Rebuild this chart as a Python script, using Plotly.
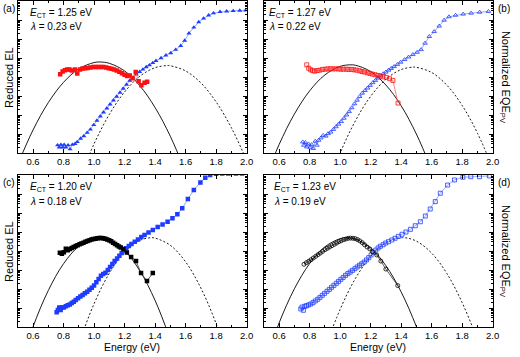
import numpy as np
import plotly.graph_objects as go

# ---- panel (a) ----
ea_eqe = [0.761, 0.772, 0.783, 0.794, 0.804, 0.815, 0.830, 0.843, 0.858, 0.875,
          0.890, 0.912, 0.933, 0.955, 0.976, 0.998, 1.019, 1.041, 1.062, 1.084,
          1.105, 1.127, 1.148, 1.170, 1.191, 1.213, 1.234, 1.256, 1.277, 1.299,
          1.320, 1.342, 1.363, 1.385, 1.406, 1.439, 1.471, 1.503, 1.535, 1.568,
          1.594, 1.622, 1.654, 1.686, 1.718, 1.751, 1.783, 1.826, 1.869, 1.912,
          1.955, 1.994]
la_eqe = [-6.59, -6.70, -6.56, -6.70, -6.56, -6.70, -6.59, -6.80, -6.56, -6.52,
          -6.42, -6.24, -6.11, -5.93, -5.76, -5.52, -5.29, -5.07, -4.86, -4.65,
          -4.44, -4.23, -4.03, -3.82, -3.61, -3.40, -3.19, -3.02, -2.86, -2.73,
          -2.60, -2.48, -2.38, -2.26, -2.15, -2.00, -1.86, -1.74, -1.56, -1.36,
          -1.08, -0.70, -0.39, -0.11, 0.08, 0.25, 0.36, 0.43, 0.46, 0.48,
          0.50, 0.51]
ea_el = [0.778, 0.794, 0.809, 0.824, 0.839, 0.854, 0.875, 0.890, 0.908, 0.925,
         0.942, 0.959, 0.976, 0.994, 1.011, 1.028, 1.045, 1.062, 1.080, 1.097,
         1.114, 1.131, 1.148, 1.166, 1.183, 1.200, 1.217, 1.234, 1.252, 1.273,
         1.292, 1.310, 1.331, 1.348]
la_el = [-2.86, -2.71, -2.64, -2.60, -2.60, -2.66, -2.60, -2.81, -2.60, -2.55,
         -2.54, -2.52, -2.50, -2.48, -2.47, -2.47, -2.47, -2.48, -2.50, -2.54,
         -2.57, -2.60, -2.66, -2.73, -2.80, -2.88, -2.95, -2.92, -3.06, -2.74,
         -3.23, -3.44, -3.30, -3.25]
ea_fit_el = [0.50, 0.60, 0.70, 0.80, 0.90, 1.00, 1.04, 1.10, 1.20, 1.30, 1.40, 1.50, 1.60]
la_fit_el = [-7.60, -5.79, -4.35, -3.28, -2.57, -2.24, -2.21, -2.28, -2.68, -3.46, -4.61, -6.12, -8.01]
ea_fit_eqe = [0.90, 1.00, 1.10, 1.20, 1.30, 1.40, 1.48, 1.50, 1.60, 1.70, 1.80, 1.90, 2.00, 2.05]
la_fit_eqe = [-8.44, -6.52, -4.97, -3.79, -2.96, -2.51, -2.40, -2.41, -2.68, -3.31, -4.31, -5.67, -7.40, -8.40]

# ---- panel (b) ----
eb_eqe = [0.755, 0.762, 0.772, 0.781, 0.792, 0.803, 0.813, 0.824, 0.837, 0.848,
          0.859, 0.874, 0.889, 0.906, 0.921, 0.938, 0.956, 0.973, 0.990, 1.007,
          1.025, 1.042, 1.059, 1.076, 1.094, 1.111, 1.128, 1.145, 1.163, 1.180,
          1.197, 1.214, 1.231, 1.249, 1.266, 1.283, 1.300, 1.318, 1.335, 1.354,
          1.376, 1.397, 1.423, 1.449, 1.477, 1.505, 1.531, 1.557, 1.585, 1.617,
          1.650, 1.682, 1.714, 1.757, 1.807, 1.859, 1.915, 1.973]
lb_eqe = [-6.42, -6.59, -6.45, -6.68, -6.52, -6.70, -6.56, -6.76, -6.38, -6.59,
          -6.33, -6.21, -6.07, -6.11, -5.98, -5.90, -5.76, -5.62, -5.48, -5.34,
          -5.17, -5.00, -4.82, -4.62, -4.41, -4.22, -4.03, -3.85, -3.71, -3.58,
          -3.44, -3.30, -3.18, -3.06, -2.93, -2.83, -2.74, -2.64, -2.55, -2.45,
          -2.34, -2.22, -2.08, -1.95, -1.82, -1.70, -1.56, -1.22, -0.87, -0.61,
          -0.32, -0.01, 0.17, 0.25, 0.31, 0.36, 0.41, 0.45]
eb_el = [0.781, 0.794, 0.807, 0.820, 0.833, 0.850, 0.867, 0.884, 0.902, 0.919,
         0.936, 0.953, 0.971, 0.988, 1.005, 1.022, 1.040, 1.057, 1.074, 1.091,
         1.109, 1.126, 1.143, 1.160, 1.178, 1.195, 1.212, 1.229, 1.247, 1.264,
         1.281, 1.303, 1.324, 1.346, 1.380]
lb_el = [-2.36, -2.54, -2.62, -2.67, -2.69, -2.66, -2.64, -2.60, -2.59, -2.57,
         -2.57, -2.57, -2.57, -2.57, -2.59, -2.59, -2.59, -2.60, -2.60, -2.62,
         -2.64, -2.67, -2.71, -2.74, -2.78, -2.81, -2.85, -2.88, -2.92, -2.95,
         -2.99, -3.02, -3.09, -3.18, -4.37]
eb_fit_el = [0.50, 0.60, 0.70, 0.80, 0.90, 1.00, 1.066, 1.10, 1.20, 1.30, 1.40, 1.50, 1.60]
lb_fit_el = [-8.54, -6.55, -4.95, -3.73, -2.89, -2.44, -2.36, -2.38, -2.71, -3.42, -4.51, -6.00, -7.86]
eb_fit_eqe = [0.90, 1.00, 1.10, 1.20, 1.30, 1.40, 1.48, 1.50, 1.60, 1.70, 1.80, 1.90, 2.00]
lb_fit_eqe = [-9.07, -7.00, -5.31, -4.02, -3.12, -2.61, -2.48, -2.49, -2.76, -3.43, -4.49, -5.94, -7.78]

# ---- panel (c) ----
ec_eqe = [0.755, 0.763, 0.772, 0.781, 0.789, 0.802, 0.815, 0.828, 0.841, 0.854,
          0.867, 0.880, 0.895, 0.910, 0.925, 0.940, 0.955, 0.970, 0.985, 1.000,
          1.015, 1.030, 1.045, 1.060, 1.075, 1.090, 1.105, 1.120, 1.135, 1.151,
          1.166, 1.181, 1.196, 1.211, 1.228, 1.245, 1.267, 1.288, 1.310, 1.331,
          1.357, 1.385, 1.417, 1.449, 1.482, 1.514, 1.546, 1.578, 1.615, 1.654,
          1.697, 1.729, 1.761, 1.800, 1.840, 1.880, 1.930, 1.970]
lc_eqe = [-6.23, -6.11, -5.98, -6.11, -5.98, -5.98, -5.91, -5.86, -5.81, -5.74,
          -5.67, -5.58, -5.49, -5.40, -5.32, -5.23, -5.14, -5.04, -4.93, -4.81,
          -4.65, -4.47, -4.30, -4.21, -4.14, -4.00, -3.84, -3.68, -3.53, -3.39,
          -3.25, -3.11, -2.98, -2.86, -2.74, -2.63, -2.51, -2.39, -2.26, -2.16,
          -2.02, -1.89, -1.74, -1.60, -1.46, -1.28, -1.07, -0.75, -0.26, 0.21,
          0.61, 0.86, 1.00, 1.06, 1.08, 1.08, 1.08, 1.08]
ec_el = [0.776, 0.789, 0.802, 0.815, 0.828, 0.841, 0.854, 0.867, 0.880, 0.892,
         0.905, 0.918, 0.931, 0.944, 0.957, 0.970, 0.983, 0.996, 1.009, 1.022,
         1.034, 1.047, 1.060, 1.073, 1.086, 1.099, 1.112, 1.125, 1.138, 1.151,
         1.163, 1.175, 1.192, 1.215, 1.243, 1.275, 1.308, 1.347, 1.385]
lc_el = [-3.09, -3.14, -3.07, -2.88, -2.96, -2.89, -2.84, -2.79, -2.74, -2.70,
         -2.65, -2.60, -2.56, -2.51, -2.47, -2.44, -2.40, -2.37, -2.35, -2.33,
         -2.32, -2.32, -2.33, -2.35, -2.39, -2.44, -2.49, -2.56, -2.63, -2.70,
         -2.76, -2.81, -2.89, -3.08, -3.32, -3.53, -4.16, -4.58, -4.16]
ec_fit_el = [0.50, 0.60, 0.70, 0.80, 0.90, 1.00, 1.035, 1.10, 1.20, 1.30, 1.40, 1.50]
lc_fit_el = [-9.40, -6.99, -5.08, -3.67, -2.75, -2.33, -2.30, -2.40, -2.97, -4.04, -5.60, -7.66]
ec_fit_eqe = [0.85, 0.90, 1.00, 1.10, 1.20, 1.30, 1.374, 1.40, 1.50, 1.60, 1.70, 1.80, 1.90]
lc_fit_eqe = [-9.14, -7.89, -5.78, -4.17, -3.05, -2.44, -2.30, -2.32, -2.70, -3.57, -4.95, -6.82, -9.19]

# ---- panel (d) ----
ed_eqe = [0.742, 0.750, 0.759, 0.768, 0.779, 0.792, 0.807, 0.822, 0.837, 0.853,
          0.868, 0.883, 0.898, 0.914, 0.929, 0.944, 0.959, 0.975, 0.990, 1.005,
          1.020, 1.036, 1.051, 1.066, 1.081, 1.097, 1.112, 1.127, 1.142, 1.158,
          1.173, 1.188, 1.203, 1.219, 1.234, 1.249, 1.264, 1.282, 1.299, 1.317,
          1.339, 1.360, 1.382, 1.406, 1.432, 1.461, 1.493, 1.526, 1.559, 1.591,
          1.624, 1.657, 1.705, 1.750, 1.805, 1.857, 1.914, 1.979]
ld_eqe = [-6.05, -5.95, -6.12, -5.91, -5.88, -5.84, -5.79, -5.72, -5.63, -5.54,
          -5.44, -5.33, -5.23, -5.12, -5.02, -4.91, -4.81, -4.70, -4.60, -4.49,
          -4.39, -4.28, -4.19, -4.11, -4.02, -3.93, -3.84, -3.75, -3.67, -3.58,
          -3.47, -3.35, -3.21, -3.07, -2.95, -2.84, -2.75, -2.67, -2.58, -2.51,
          -2.42, -2.33, -2.23, -2.12, -2.00, -1.86, -1.67, -1.46, -1.16, -0.79,
          -0.40, 0.04, 0.47, 0.74, 0.88, 0.91, 0.91, 0.95]
ed_el = [0.763, 0.779, 0.794, 0.809, 0.824, 0.840, 0.855, 0.870, 0.885, 0.901,
         0.916, 0.931, 0.946, 0.962, 0.977, 0.992, 1.007, 1.023, 1.038, 1.053,
         1.068, 1.084, 1.099, 1.114, 1.129, 1.145, 1.160, 1.177, 1.195, 1.212,
         1.240, 1.267, 1.300, 1.378]
ld_el = [-3.70, -3.61, -3.54, -3.46, -3.37, -3.28, -3.19, -3.11, -3.02, -2.93,
         -2.86, -2.79, -2.72, -2.65, -2.58, -2.51, -2.46, -2.40, -2.37, -2.33,
         -2.32, -2.33, -2.35, -2.40, -2.47, -2.56, -2.67, -2.79, -2.89, -3.04,
         -3.21, -3.53, -3.95, -4.82]
ed_fit_el = [0.50, 0.60, 0.70, 0.80, 0.90, 1.00, 1.045, 1.10, 1.20, 1.30, 1.40, 1.50, 1.60]
ld_fit_el = [-9.01, -6.78, -4.99, -3.66, -2.78, -2.35, -2.30, -2.37, -2.84, -3.77, -5.15, -6.98, -9.26]
ed_fit_eqe = [0.90, 1.00, 1.10, 1.20, 1.30, 1.41, 1.50, 1.60, 1.70, 1.80, 1.90, 2.00]
ld_fit_eqe = [-8.13, -6.07, -4.45, -3.29, -2.57, -2.30, -2.48, -3.11, -4.18, -5.71, -7.68, -10.1]

panel_tags = ["(a)", "(b)", "(c)", "(d)"]
ect_text = ["1.25", "1.27", "1.20", "1.23"]
lam_text = ["0.23", "0.22", "0.18", "0.19"]
x_ticks = [0.6, 0.8, 1.0, 1.2, 1.4, 1.6, 1.8, 2.0]

BLUE = "#1d3cff"
BLUE_LINE = "#7d92ff"
RED = "#ff1010"
FONT = "Liberation Sans, Arial, sans-serif"

W, H = 520, 357
# pixel boxes of the four plot areas: (left, right, top, bottom)
boxes = [(18, 250, 1, 153), (267.5, 499.3, 1, 153),
         (18, 250, 175, 327), (267.5, 499.3, 175, 327)]

panels = [
    dict(eqe=(ea_eqe, la_eqe), el=(ea_el, la_el), fit_el=(ea_fit_el, la_fit_el),
         fit_eqe=(ea_fit_eqe, la_fit_eqe), eqe_sym="triangle-up", el_sym="square",
         el_col=RED),
    dict(eqe=(eb_eqe, lb_eqe), el=(eb_el, lb_el), fit_el=(eb_fit_el, lb_fit_el),
         fit_eqe=(eb_fit_eqe, lb_fit_eqe), eqe_sym="triangle-up-open", el_sym="square-open",
         el_col=RED),
    dict(eqe=(ec_eqe, lc_eqe), el=(ec_el, lc_el), fit_el=(ec_fit_el, lc_fit_el),
         fit_eqe=(ec_fit_eqe, lc_fit_eqe), eqe_sym="square", el_sym="square",
         el_col="black"),
    dict(eqe=(ed_eqe, ld_eqe), el=(ed_el, ld_el), fit_el=(ed_fit_el, ld_fit_el),
         fit_eqe=(ed_fit_eqe, ld_fit_eqe), eqe_sym="square-open", el_sym="circle-open",
         el_col="black"),
]

fig = go.Figure()
layout = {}
annotations = []

for i, (p, box) in enumerate(zip(panels, boxes)):
    n = "" if i == 0 else str(i + 1)
    xref, yref = "x" + n, "y" + n
    l, r, t, b = box
    common = dict(showline=True, linecolor="black", linewidth=1, mirror="ticks",
                  ticks="inside", tickcolor="black", showgrid=False, zeroline=False)
    layout["xaxis" + n] = dict(common, domain=[l / W, r / W], anchor=yref,
                               range=[0.5, 2.0], tickvals=x_ticks, tickformat=".1f",
                               ticklen=4, tickfont=dict(family=FONT, size=9.5, color="black"),
                               minor=dict(ticks="inside", ticklen=2, dtick=0.1, tick0=0,
                                          tickcolor="black"))
    layout["yaxis" + n] = dict(common, domain=[1 - b / H, 1 - t / H], anchor=xref,
                               type="log", range=[-7, 1], dtick=1, ticklen=4,
                               showticklabels=False,
                               minor=dict(ticks="inside", ticklen=2, dtick="D1",
                                          tickcolor="black"))

    # fits
    fig.add_trace(go.Scatter(x=p["fit_el"][0], y=np.power(10.0, p["fit_el"][1]),
                             mode="lines", line=dict(color="black", width=0.9, shape="spline"),
                             xaxis=xref, yaxis=yref, showlegend=False))
    fig.add_trace(go.Scatter(x=p["fit_eqe"][0], y=np.power(10.0, p["fit_eqe"][1]),
                             mode="lines",
                             line=dict(color="black", width=0.9, dash="2px,2px", shape="spline"),
                             xaxis=xref, yaxis=yref, showlegend=False))
    # EQE data
    open_eqe = p["eqe_sym"].endswith("open")
    fig.add_trace(go.Scatter(x=p["eqe"][0], y=np.power(10.0, p["eqe"][1]),
                             mode="lines+markers",
                             line=dict(color=BLUE_LINE, width=0.8),
                             marker=dict(symbol=p["eqe_sym"], size=4 if open_eqe else 4.5,
                                         color=BLUE,
                                         line=dict(color=BLUE, width=0.8 if open_eqe else 0)),
                             xaxis=xref, yaxis=yref, showlegend=False))
    # EL data
    open_el = p["el_sym"].endswith("open")
    line_col = "#ff6060" if p["el_col"] == RED else "#333333"
    fig.add_trace(go.Scatter(x=p["el"][0], y=np.power(10.0, p["el"][1]),
                             mode="lines+markers",
                             line=dict(color=line_col, width=0.8),
                             marker=dict(symbol=p["el_sym"], size=4 if open_el else 4.5,
                                         color=p["el_col"],
                                         line=dict(color=p["el_col"], width=0.8 if open_el else 0)),
                             xaxis=xref, yaxis=yref, showlegend=False))

    # parameter text
    tx = l + (10 if i % 2 == 0 else 3 if i == 1 else 8)
    annotations.append(dict(x=tx / W, y=1 - (t + 12) / H, xref="paper", yref="paper",
                            xanchor="left", yanchor="middle", showarrow=False,
                            text="<i>E</i><sub>CT</sub> = %s eV" % ect_text[i],
                            font=dict(family=FONT, size=10, color="black")))
    annotations.append(dict(x=tx / W, y=1 - (t + 26) / H, xref="paper", yref="paper",
                            xanchor="left", yanchor="middle", showarrow=False,
                            text="<i>λ</i> = %s eV" % lam_text[i],
                            font=dict(family=FONT, size=10, color="black")))
    # panel tag and y title
    if i % 2 == 0:
        annotations.append(dict(x=1 / W, y=1 - (t + 7) / H, xref="paper", yref="paper",
                                xanchor="left", yanchor="middle", showarrow=False,
                                text=panel_tags[i], font=dict(family=FONT, size=10, color="black")))
        annotations.append(dict(x=9 / W, y=1 - (t + b) / 2 / H, xref="paper", yref="paper",
                                xanchor="center", yanchor="middle", showarrow=False,
                                textangle=-90, text="Reduced EL",
                                font=dict(family=FONT, size=11, color="black")))
    else:
        annotations.append(dict(x=519 / W, y=1 - (t + 7) / H, xref="paper", yref="paper",
                                xanchor="right", yanchor="middle", showarrow=False,
                                text=panel_tags[i], font=dict(family=FONT, size=10, color="black")))
        annotations.append(dict(x=512 / W, y=1 - (t + b) / 2 / H, xref="paper", yref="paper",
                                xanchor="center", yanchor="middle", showarrow=False,
                                textangle=90, text="Normalized EQE<sub>PV</sub>",
                                font=dict(family=FONT, size=11, color="black")))
    if i >= 2:
        annotations.append(dict(x=(l + r) / 2 / W, y=1 - 347 / H, xref="paper", yref="paper",
                                xanchor="center", yanchor="middle", showarrow=False,
                                text="Energy (eV)",
                                font=dict(family=FONT, size=10.5, color="black")))

fig.update_layout(**layout)
fig.update_layout(width=W, height=H, autosize=False,
                  margin=dict(l=0, r=0, t=0, b=0),
                  paper_bgcolor="white", plot_bgcolor="white",
                  annotations=annotations, showlegend=False)

# the page body has a default 8px margin; drop it so the figure fills the window
fig.write_html("out.html", config={"displayModeBar": False},
               post_script="document.body.style.margin='0';")
